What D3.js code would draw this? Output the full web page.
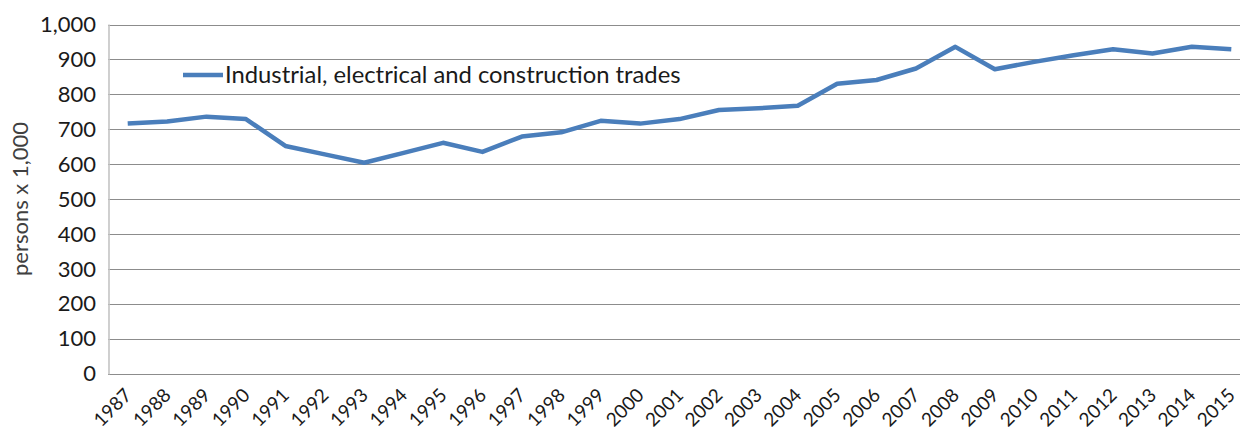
<!DOCTYPE html>
<html>
<head>
<meta charset="utf-8">
<script src="https://cdn.jsdelivr.net/npm/d3@7"></script>
<style>
  body { margin: 0; background: #fff; }
  svg { display: block; font-family: Lato, "Open Sans", sans-serif; }
</style>
</head>
<body>
<svg id="chart"></svg>
<script>
const years = ["1987", "1988", "1989", "1990", "1991", "1992", "1993", "1994", "1995", "1996",
    "1997", "1998", "1999", "2000", "2001", "2002", "2003", "2004", "2005", "2006",
    "2007", "2008", "2009", "2010", "2011", "2012", "2013", "2014", "2015"];
const trades = [716, 722, 736, 729, 652, 628, 604, 632, 661, 635,
    679, 691, 724, 716, 729, 755, 760, 767, 830, 841,
    874, 936, 872, 893, 912, 929, 917, 936, 929];
const yTicks = [0, 100, 200, 300, 400, 500, 600, 700, 800, 900, 1000];
const seriesName = "Industrial, electrical and construction trades";
const yTitle = "persons x 1,000";

const width = 1240;
const height = 435;
const margin = { top: 24.5, right: -11, bottom: 61.5, left: 108 };

const svg = d3.select("#chart").attr("width", width).attr("height", height);

const x = d3.scalePoint().domain(years).range([margin.left, width - margin.right]).padding(0.5);
const y = d3.scaleLinear().domain([0, 1000]).range([height - margin.bottom, margin.top]);

// gridlines
svg.append("g").selectAll("line").data(yTicks.filter(d => d > 0)).enter().append("line")
    .attr("x1", margin.left).attr("x2", width)
    .attr("y1", d => Math.round(y(d)) + 0.5).attr("y2", d => Math.round(y(d)) + 0.5)
    .attr("stroke", "#8c8c8c").attr("stroke-width", 1);

// baseline + left axis line
svg.append("line").attr("x1", margin.left).attr("x2", width)
    .attr("y1", Math.round(y(0)) + 0.5).attr("y2", Math.round(y(0)) + 0.5)
    .attr("stroke", "#8c8c8c").attr("stroke-width", 1);
svg.append("line").attr("x1", margin.left + 1).attr("x2", margin.left + 1)
    .attr("y1", y(1000)).attr("y2", y(0) + 1)
    .attr("stroke", "#c4c4c4").attr("stroke-width", 1.6);

// y labels
svg.append("g").selectAll("text").data(yTicks).enter().append("text")
    .attr("x", 96).attr("y", d => y(d)).attr("dy", "0.35em")
    .attr("text-anchor", "end").attr("font-size", 22).attr("fill", "#1a1a1a")
    .text(d => d3.format(",")(d));

svg.append("text")
    .attr("transform", `translate(28,${(y(0) + y(1000)) / 2}) rotate(-90)`)
    .attr("text-anchor", "middle").attr("font-size", 22).attr("fill", "#404040")
    .text(yTitle);

// x labels
svg.append("g").selectAll("text").data(years).enter().append("text")
    .attr("transform", d => `translate(${x(d) + 5},${y(0) + 23}) rotate(-45)`)
    .attr("text-anchor", "end").attr("font-size", 19).attr("fill", "#1a1a1a")
    .text(d => d);

// series line
const line = d3.line().x((d, i) => x(years[i])).y(d => y(d));
svg.append("path").datum(trades)
    .attr("fill", "none").attr("stroke", "#4a7ebb").attr("stroke-width", 4.5)
    .attr("stroke-linejoin", "round").attr("d", line);

// legend
const legend = svg.append("g").attr("transform", "translate(183,75)");
legend.append("line").attr("x1", 0).attr("x2", 40).attr("y1", 0).attr("y2", 0)
    .attr("stroke", "#4a7ebb").attr("stroke-width", 4.5);
legend.append("text").attr("x", 42).attr("y", 0).attr("dy", "0.35em")
    .attr("font-size", 23.8).attr("fill", "#1a1a1a").text(seriesName);
</script>
</body>
</html>
